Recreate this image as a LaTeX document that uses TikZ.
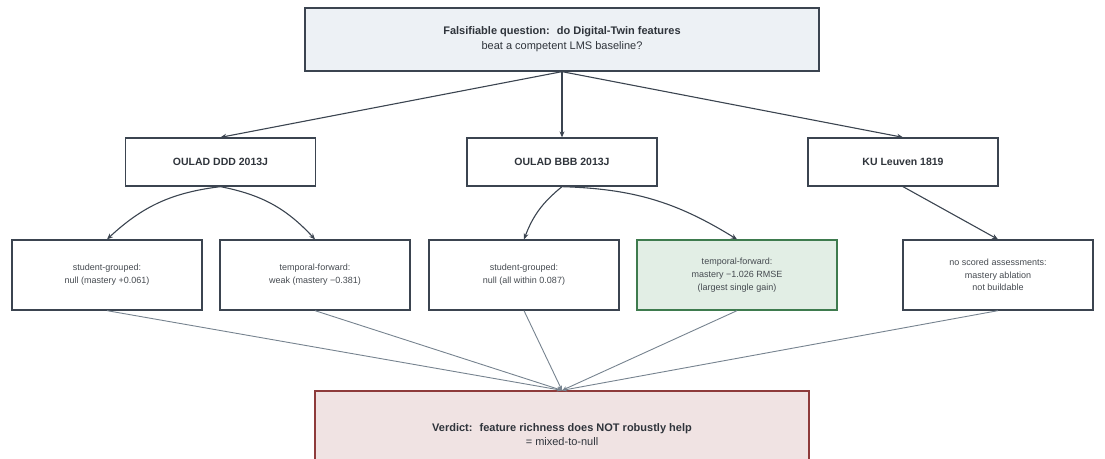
\documentclass[tikz,border=0pt]{standalone}
\usepackage{fontspec}
\setmainfont{Liberation Sans}
\usetikzlibrary{arrows.meta,positioning}

\begin{document}
\begin{tikzpicture}[x=1pt,y=1pt,every text node part/.style={align=center},
  box/.style={draw=boxline, line width=1.3pt, inner sep=0pt, text=textdark},
  dataset/.style={box, minimum width=190pt, minimum height=48pt, font=\fontsize{10.5}{13}\selectfont\bfseries},
  finding/.style={box, minimum width=190pt, minimum height=70pt, text=textgray, font=\fontsize{9}{12.7}\selectfont},
  flow/.style={draw=boxline, line width=1.1pt, -{Stealth[length=6pt,width=5pt]}},
  merge/.style={draw=mergeline, line width=0.9pt, -{Stealth[length=5pt,width=4pt]}}]

\definecolor{boxline}{HTML}{3B4450}
\definecolor{mergeline}{HTML}{76838F}
\definecolor{textdark}{HTML}{2F343B}
\definecolor{textgray}{HTML}{454A50}
\definecolor{questfill}{HTML}{EDF1F5}
\definecolor{gainfill}{HTML}{E2EEE5}
\definecolor{gainline}{HTML}{3E7B4E}
\definecolor{verdictfill}{HTML}{F0E3E3}
\definecolor{verdictline}{HTML}{8E3B3B}

    \clip (0,0) rectangle (1105,-458);

    %% question
    \node[box, fill=questfill, minimum width=514pt, minimum height=63pt, font=\fontsize{11}{15}\selectfont] (question) at (562,-39.5) {\textbf{Falsifiable question:~ do Digital-Twin features}\\beat a competent LMS baseline?};

    % datasets
    \node[dataset] (ddd) at (220.5,-162) {OULAD DDD 2013J};
    \node[dataset] (bbb) at (562,-162) {OULAD BBB 2013J};
    \node[dataset] (ku) at (903,-162) {KU Leuven 1819};

    % findings
    \node[finding] (sgddd) at (107,-275) {student-grouped:\\null (mastery +0.061)};
    \node[finding] (tfddd) at (315,-275) {temporal-forward:\\weak (mastery −0.381)};
    \node[finding] (sgbbb) at (524,-275) {student-grouped:\\null (all within 0.087)};
    \node[finding, draw=gainline, fill=gainfill, minimum width=200pt] (tfbbb) at (737,-275) {temporal-forward:\\mastery −1.026 RMSE\\(largest single gain)};
    \node[finding] (noscore) at (998,-275) {no scored assessments:\\mastery ablation\\not buildable};

    % verdict
    \node[box, draw=verdictline, fill=verdictfill, minimum width=494pt, minimum height=88pt, font=\fontsize{11}{14}\selectfont] (verdict) at (562,-435) {\textbf{Verdict:~ feature richness does NOT robustly help}\\= mixed-to-null};

    % question to datasets
    \draw[flow] (question.south) -- (ddd.north);
    \draw[flow] (question.south) -- (bbb.north);
    \draw[flow] (question.south) -- (ku.north);

    % datasets to findings
    \draw[flow] (ddd.south) to[bend right=18] (sgddd.north);
    \draw[flow] (ddd.south) to[bend left=18] (tfddd.north);
    \draw[flow] (bbb.south) to[bend right=15] (sgbbb.north);
    \draw[flow] (bbb.south) to[bend left=15] (tfbbb.north);
    \draw[flow] (ku.south) -- (noscore.north);

    % findings to verdict
    \draw[merge] (sgddd.south) -- (verdict.north);
    \draw[merge] (tfddd.south) -- (verdict.north);
    \draw[merge] (sgbbb.south) -- (verdict.north);
    \draw[merge] (tfbbb.south) -- (verdict.north);
    \draw[merge] (noscore.south) -- (verdict.north);
  \end{tikzpicture}
\end{document}
